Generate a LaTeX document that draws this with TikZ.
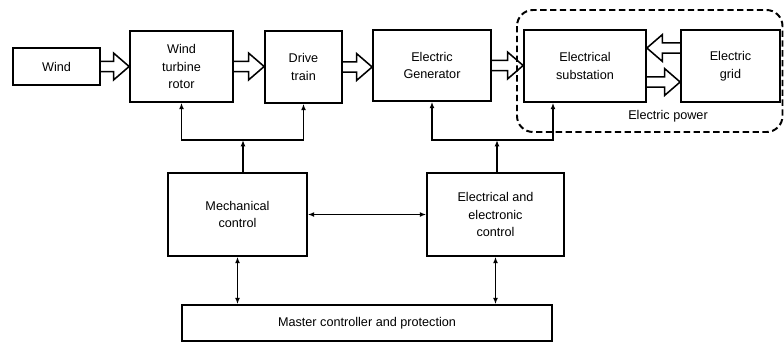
\documentclass[tikz,border=0pt]{standalone}
\usepackage{fontspec}
\setmainfont{Liberation Sans}
\usetikzlibrary{arrows.meta,calc}

\tikzset{
  block/.style={draw, line width=1.2pt, align=center, inner sep=0pt,
    font=\fontsize{9}{12.5}\selectfont},
  link/.style={line width=1.1pt, -{Latex[length=4.5pt,width=3.5pt]}},
  both/.style={line width=1.1pt, {Latex[length=4.5pt,width=3.5pt]}-{Latex[length=4.5pt,width=3.5pt]}},
  fat/.style={line width=1.1pt, line join=miter,
    to path={let \p1=(\tikztostart), \p2=(\tikztotarget), \n1={sign(\x2-\x1)} in
      (\x1,\y2+3.6pt) -- ({\x2-\n1*11pt},\y2+3.6pt) -- ({\x2-\n1*11pt},\y2+9.5pt)
      -- (\x2,\y2) -- ({\x2-\n1*11pt},\y2-9.5pt) -- ({\x2-\n1*11pt},\y2-3.6pt) -- (\x1,\y2-3.6pt)}},
  group/.style={dashed, dash pattern=on 4.5pt off 2.5pt, line width=1.4pt, rounded corners=0.4cm},
}

\begin{document}
\begin{tikzpicture}[x=0.025cm,y=-0.025cm]
                \useasboundingbox (0,0) rectangle (784,343);

                \node[block, minimum width=2.175cm, minimum height=0.925cm] (wind) at (56.5,66.5) {Wind};
                \node[block, minimum width=2.575cm, minimum height=1.775cm] (rotor) at (181.5,66.5) {Wind\\turbine\\rotor};
                \node[block, minimum width=1.925cm, minimum height=1.8cm] (drive) at (303.5,67) {Drive\\train};
                \node[block, minimum width=2.95cm, minimum height=1.775cm] (gen) at (432,65.5) {Electric\\Generator};
                \node[block, minimum width=3.05cm, minimum height=1.8cm] (subst) at (585,66) {Electrical\\substation};
                \node[block, minimum width=2.475cm, minimum height=1.8cm] (grid) at (730.5,66) {Electric\\grid};
                \node[block, minimum width=3.475cm, minimum height=2.075cm] (mech) at (237.5,214.5) {Mechanical\\control};
                \node[block, minimum width=3.425cm, minimum height=2.075cm] (elec) at (495.5,214.5) {Electrical and\\electronic\\control};
                \node[block, minimum width=9.25cm, minimum height=0.9cm] (master) at (367,323) {Master controller and protection};

                % electric power side
                \draw[group] (517,10) rectangle (782.5,132);
                \node[font=\fontsize{9}{12.5}\selectfont] (power) at (668,116) {Electric power};

                % power flow
                \draw[fat] (wind.east) to (rotor.west |- wind.east);
                \draw[fat] (rotor.east) to (drive.west |- rotor.east);
                \draw[fat] (drive.east) to (gen.west |- drive.east);
                \draw[fat] (gen.east) to (subst.west |- gen.east);
                \draw[fat] ([yshift=0.45cm]grid.west) to ([yshift=0.45cm]subst.east);
                \draw[fat] ([yshift=-0.4cm]subst.east) to ([yshift=-0.4cm]grid.west);

                % control
                \coordinate (mj) at (243,140);
                \coordinate (ej) at (497,140);
                \draw[link] (mj |- mech.north) -- (mj);
                \draw[link] (mj) -| (rotor.south); \draw[link] (mj) -| (drive.south);
                \draw[link] (ej |- elec.north) -- (ej);
                \draw[link] (ej) -| (gen.south); \draw[link] (ej) -| ([xshift=-0.8cm]subst.south);
                \draw[both] (mech) -- (elec);
                \draw[both] (mech.south) -- (mech.south |- master.north);
                \draw[both] (elec.south) -- (elec.south |- master.north);
            \end{tikzpicture}
\end{document}
